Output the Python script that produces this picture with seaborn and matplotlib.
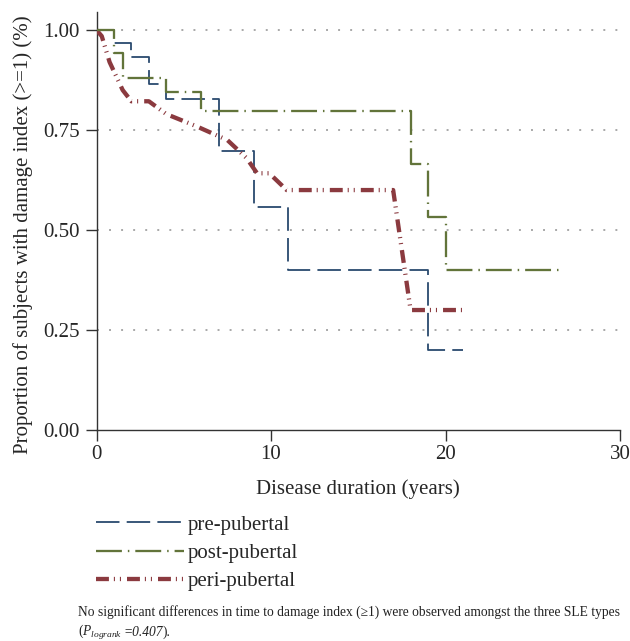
import matplotlib
matplotlib.use("Agg")
import matplotlib.pyplot as plt
import seaborn as sns
import pandas as pd

# Kaplan-Meier style estimates
pre_time = [0, 1, 2, 3, 4, 7, 9, 11, 19, 21]
pre_surv = [1.0, 0.967, 0.933, 0.864, 0.828, 0.698, 0.558, 0.40, 0.20, 0.20]

post_time = [0, 1, 1.5, 4, 6, 18, 19, 20, 26.7]
post_surv = [1.0, 0.943, 0.881, 0.845, 0.797, 0.666, 0.532, 0.40, 0.40]

peri_time = [0, 0.3, 0.75, 1.5, 2, 3, 4, 5.7, 7.5, 8.6, 9.2, 9.9, 10.9, 17, 18, 21]
peri_surv = [1.0, 0.985, 0.92, 0.85, 0.822, 0.822, 0.79, 0.76, 0.725, 0.68,
             0.642, 0.642, 0.60, 0.60, 0.30, 0.30]

labels = ["pre-pubertal", "post-pubertal", "peri-pubertal"]
colors = ["#2a4a6e", "#62743a", "#8b3a3f"]

pre = pd.DataFrame({"time": pre_time, "surv": pre_surv})
post = pd.DataFrame({"time": post_time, "surv": post_surv})
peri = pd.DataFrame({"time": peri_time, "surv": peri_surv})

sns.set_style("white")
plt.rcParams["font.family"] = ["Liberation Serif", "DejaVu Serif"]
plt.rcParams["mathtext.fontset"] = "custom"
plt.rcParams["mathtext.rm"] = "Liberation Serif"
plt.rcParams["mathtext.it"] = "Liberation Serif:italic"

fig = plt.figure(figsize=(6.3, 6.41), dpi=100)
ax = fig.add_axes([96.5 / 630, 1 - 430 / 641, (620 - 96.5) / 630, (430 - 11.7) / 641])

sns.lineplot(data=pre, x="time", y="surv", ax=ax, color=colors[0], lw=1.3,
             drawstyle="steps-post", estimator=None, label=labels[0],
             linestyle=(0, (13.0, 4.0)))
sns.lineplot(data=peri, x="time", y="surv", ax=ax, color=colors[2], lw=3.1,
             estimator=None, label=labels[2], zorder=3,
             linestyle=(0, (3.0, 1.15, 0.25, 1.15, 0.25, 1.4)))
sns.lineplot(data=post, x="time", y="surv", ax=ax, color=colors[1], lw=1.65,
             drawstyle="steps-post", estimator=None, label=labels[1], zorder=4,
             linestyle=(0, (11.3, 2.6, 0.65, 2.6)))

ax.set_xlim(0, 30)
ax.set_ylim(0, 1.046)
ax.set_xticks([0, 10, 20, 30])
ax.set_yticks([0, 0.25, 0.5, 0.75, 1.0])
ax.set_yticklabels(["0.00", "0.25", "0.50", "0.75", "1.00"])
ax.tick_params(axis="both", labelsize=15, length=8, width=1, color="#333333",
               direction="out")
ax.tick_params(axis="y", pad=4)
ax.tick_params(axis="x", pad=3)
ax.tick_params(left=True, bottom=True)

for y in [0.25, 0.5, 0.75, 1.0]:
    ax.axhline(y, color="#a8a8a8", lw=1.4, linestyle=(0, (1, 5.2)), zorder=0)

sns.despine(ax=ax)
for s in ["left", "bottom"]:
    ax.spines[s].set_color("#333333")
    ax.spines[s].set_linewidth(1.0)

ax.set_xlabel("Disease duration (years)", fontsize=15)
ax.set_ylabel("Proportion of subjects with damage index (>=1) (%)", fontsize=15)
ax.xaxis.set_label_coords(0.5, -0.118)
ax.yaxis.set_label_coords(-0.122, 0.466)

handles, labs = ax.get_legend_handles_labels()
order = [labs.index(l) for l in labels]
ax.get_legend().remove()
fig.legend([handles[i] for i in order], [labs[i] for i in order],
           loc="upper left", bbox_to_anchor=(96 / 630, 1 - 515 / 641),
           frameon=False, fontsize=15, handlelength=4.2, handletextpad=0.2,
           labelspacing=0.42, borderaxespad=0, borderpad=0)

note_color = "#222222"
fig.text(78 / 630, 1 - 612 / 641,
         "No significant differences in time to damage index (\u22651) were observed amongst the three SLE types",
         fontsize=9.75, va="center", ha="left", color=note_color)

# second footnote line: italic P with subscript, then italic value
renderer = fig.canvas.get_renderer()
t1 = fig.text(78 / 630, 1 - 636 / 641, r"($P_{logrank}$",
              fontsize=9.75, va="baseline", ha="left", color=note_color)
x1 = t1.get_window_extent(renderer).x1 / fig.bbox.width
t2 = fig.text(x1 + 1 / 630, 1 - 636 / 641, "=0.407", style="italic",
              fontsize=9.75, va="baseline", ha="left", color=note_color)
x2 = t2.get_window_extent(renderer).x1 / fig.bbox.width
fig.text(x2, 1 - 636 / 641, ").", fontsize=9.75, va="baseline", ha="left",
         color=note_color)

fig.savefig("out.png", dpi=100)
